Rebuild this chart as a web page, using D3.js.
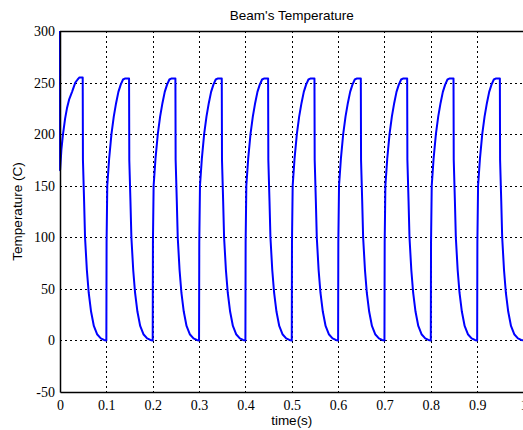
<!DOCTYPE html>
<html>
<head>
    <meta charset="utf-8">
    <title>Beam's Temperature</title>
    <script src="https://d3js.org/d3.v7.min.js"></script>
    <style>
        body { margin: 0; background: #fff; }
        svg { display: block; }
        .tick-label { font-family: 'Liberation Serif', 'Times New Roman', serif; font-size: 14px; fill: #000; }
        .lbl { font-family: 'Liberation Sans', Arial, sans-serif; font-size: 13.5px; fill: #000; }
    </style>
</head>
<body>
    <svg width="523" height="430"></svg>
    <script>
        // time (s) and temperature (C) samples
        var time = [
            0, 0.0002, 0.003, 0.0065, 0.011, 0.015, 0.020, 0.026, 0.033, 0.038, 0.042, 0.049,
            0.0495, 0.052, 0.054, 0.058, 0.062, 0.067, 0.073, 0.080, 0.088, 0.095,
            0.1, 0.1005, 0.102, 0.106, 0.111, 0.116, 0.121, 0.126, 0.131, 0.136, 0.141, 0.149,
            0.1495, 0.152, 0.154, 0.158, 0.162, 0.167, 0.173, 0.180, 0.188, 0.195,
            0.2, 0.2005, 0.202, 0.206, 0.211, 0.216, 0.221, 0.226, 0.231, 0.236, 0.241, 0.249,
            0.2495, 0.252, 0.254, 0.258, 0.262, 0.267, 0.273, 0.280, 0.288, 0.295,
            0.3, 0.3005, 0.302, 0.306, 0.311, 0.316, 0.321, 0.326, 0.331, 0.336, 0.341, 0.349,
            0.3495, 0.352, 0.354, 0.358, 0.362, 0.367, 0.373, 0.380, 0.388, 0.395,
            0.4, 0.4005, 0.402, 0.406, 0.411, 0.416, 0.421, 0.426, 0.431, 0.436, 0.441, 0.449,
            0.4495, 0.452, 0.454, 0.458, 0.462, 0.467, 0.473, 0.480, 0.488, 0.495,
            0.5, 0.5005, 0.502, 0.506, 0.511, 0.516, 0.521, 0.526, 0.531, 0.536, 0.541, 0.549,
            0.5495, 0.552, 0.554, 0.558, 0.562, 0.567, 0.573, 0.580, 0.588, 0.595,
            0.6, 0.6005, 0.602, 0.606, 0.611, 0.616, 0.621, 0.626, 0.631, 0.636, 0.641, 0.649,
            0.6495, 0.652, 0.654, 0.658, 0.662, 0.667, 0.673, 0.680, 0.688, 0.695,
            0.7, 0.7005, 0.702, 0.706, 0.711, 0.716, 0.721, 0.726, 0.731, 0.736, 0.741, 0.749,
            0.7495, 0.752, 0.754, 0.758, 0.762, 0.767, 0.773, 0.780, 0.788, 0.795,
            0.8, 0.8005, 0.802, 0.806, 0.811, 0.816, 0.821, 0.826, 0.831, 0.836, 0.841, 0.849,
            0.8495, 0.852, 0.854, 0.858, 0.862, 0.867, 0.873, 0.880, 0.888, 0.895,
            0.9, 0.9005, 0.902, 0.906, 0.911, 0.916, 0.921, 0.926, 0.931, 0.936, 0.941, 0.949,
            0.9495, 0.952, 0.954, 0.958, 0.962, 0.967, 0.973, 0.980, 0.988, 0.995,
            1.0
        ];
        var temperature = [
            300, 165, 185, 200, 215, 225, 234, 241, 250, 253, 255, 255,
            175, 135, 100, 68, 46, 28, 14, 6, 2, 0.5,
            0, 95, 150, 176, 200, 217, 230, 241, 248, 253, 254, 254,
            175, 135, 100, 68, 46, 28, 14, 6, 2, 0.5,
            0, 95, 150, 176, 200, 217, 230, 241, 248, 253, 254, 254,
            175, 135, 100, 68, 46, 28, 14, 6, 2, 0.5,
            0, 95, 150, 176, 200, 217, 230, 241, 248, 253, 254, 254,
            175, 135, 100, 68, 46, 28, 14, 6, 2, 0.5,
            0, 95, 150, 176, 200, 217, 230, 241, 248, 253, 254, 254,
            175, 135, 100, 68, 46, 28, 14, 6, 2, 0.5,
            0, 95, 150, 176, 200, 217, 230, 241, 248, 253, 254, 254,
            175, 135, 100, 68, 46, 28, 14, 6, 2, 0.5,
            0, 95, 150, 176, 200, 217, 230, 241, 248, 253, 254, 254,
            175, 135, 100, 68, 46, 28, 14, 6, 2, 0.5,
            0, 95, 150, 176, 200, 217, 230, 241, 248, 253, 254, 254,
            175, 135, 100, 68, 46, 28, 14, 6, 2, 0.5,
            0, 95, 150, 176, 200, 217, 230, 241, 248, 253, 254, 254,
            175, 135, 100, 68, 46, 28, 14, 6, 2, 0.5,
            0, 95, 150, 176, 200, 217, 230, 241, 248, 253, 254, 254,
            175, 135, 100, 68, 46, 28, 14, 6, 2, 0.5,
            0
        ];
        var xTicks = [0, 0.1, 0.2, 0.3, 0.4, 0.5, 0.6, 0.7, 0.8, 0.9, 1];
        var xTickLabels = ["0", "0.1", "0.2", "0.3", "0.4", "0.5", "0.6", "0.7", "0.8", "0.9", "1"];
        var yTicks = [-50, 0, 50, 100, 150, 200, 250, 300];
        var yTickLabels = ["-50", "0", "50", "100", "150", "200", "250", "300"];

        var svg = d3.select("svg");
        var plotL = 60, plotR = 523.5, plotT = 31, plotB = 392;

        var x = d3.scaleLinear().domain([0, 1]).range([plotL, plotR]);
        var y = d3.scaleLinear().domain([-50, 300]).range([plotB, plotT]);

        // dotted grid
        var grid = svg.append("g").attr("stroke", "#000").attr("stroke-width", 1)
            .attr("stroke-dasharray", "2,3").attr("shape-rendering", "crispEdges");
        grid.selectAll(".gx").data(xTicks.slice(1, -1)).enter().append("line")
            .attr("x1", d => Math.round(x(d)) + 0.5).attr("x2", d => Math.round(x(d)) + 0.5)
            .attr("y1", plotT).attr("y2", plotB);
        grid.selectAll(".gy").data(yTicks.slice(1, -1)).enter().append("line")
            .attr("y1", d => Math.round(y(d)) + 0.5).attr("y2", d => Math.round(y(d)) + 0.5)
            .attr("x1", plotL).attr("x2", plotR);

        // the series
        var pts = time.map((t, i) => [t, temperature[i]]);
        var line = d3.line().x(d => x(d[0])).y(d => y(d[1]));
        svg.append("path").datum(pts)
            .attr("d", line)
            .attr("fill", "none")
            .attr("stroke", "#0000ff")
            .attr("stroke-width", 2)
            .attr("stroke-linejoin", "round");

        // axes
        var xAxis = d3.axisBottom(x).tickValues(xTicks).tickSize(0).tickPadding(8)
            .tickFormat((d, i) => xTickLabels[i]);
        var gx = svg.append("g").attr("transform", "translate(0," + plotB + ")").call(xAxis);
        var yAxis = d3.axisLeft(y).tickValues(yTicks).tickSize(0).tickPadding(5)
            .tickFormat((d, i) => yTickLabels[i]);
        var gy = svg.append("g").attr("transform", "translate(" + plotL + ",0)").call(yAxis);
        [gx, gy].forEach(g => {
            g.attr("font-family", null).attr("font-size", null);
            g.select(".domain").attr("stroke", "#000").attr("stroke-width", 1.5);
            g.selectAll("text").attr("class", "tick-label");
        });
        gx.selectAll("text").attr("dy", "0.71em");

        // top border
        svg.append("line").attr("x1", plotL).attr("x2", plotR).attr("y1", plotT + 0.5).attr("y2", plotT + 0.5)
            .attr("stroke", "#000").attr("stroke-width", 1.5);

        // titles
        svg.append("text").attr("class", "lbl").attr("x", (plotL + plotR) / 2).attr("y", 20)
            .attr("text-anchor", "middle").text("Beam's Temperature");
        svg.append("text").attr("class", "lbl").attr("x", (plotL + plotR) / 2).attr("y", 425)
            .attr("text-anchor", "middle").text("time(s)");
        svg.append("text").attr("class", "lbl")
            .attr("transform", "translate(22," + (plotT + plotB) / 2 + ") rotate(-90)")
            .attr("text-anchor", "middle").text("Temperature (C)");
    </script>
</body>
</html>
